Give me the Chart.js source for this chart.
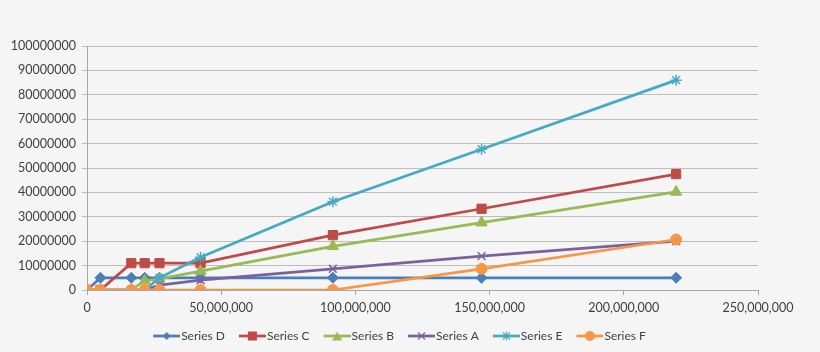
<!DOCTYPE html>
<html>
<head>
<meta charset="utf-8">
<script src="https://cdn.jsdelivr.net/npm/chart.js@4.4.1/dist/chart.umd.min.js"></script>
<style>
  html, body { margin: 0; padding: 0; background: #f5f5f5; }
  #wrap { width: 820px; height: 352px; }
</style>
</head>
<body>
<div id="wrap"><canvas id="myChart"></canvas></div>
<script>
var xValues = [0, 5000000, 16500000, 21500000, 27000000, 42300000, 91600000, 147000000, 219500000];
var seriesD = [0, 5000000, 5000000, 5000000, 5000000, 5000000, 5000000, 5000000, 5000000];
var seriesC = [0, 0, 11000000, 11000000, 11000000, 11000000, 22500000, 33300000, 47500000];
var seriesB = [0, 0, 0, 3800000, 4600000, 7700000, 17900000, 27600000, 40200000];
var seriesA = [0, 0, 0, 0, 2000000, 4000000, 8700000, 13900000, 20000000];
var seriesE = [0, 0, 0, 0, 5000000, 13400000, 36200000, 57700000, 86000000];
var seriesF = [0, 0, 0, 0, 0, 0, 0, 8700000, 20700000];
var yTicks = [0, 10000000, 20000000, 30000000, 40000000, 50000000, 60000000, 70000000, 80000000, 90000000, 100000000];
var xTicks = [0, 50000000, 100000000, 150000000, 200000000, 250000000];

function pts(ys) {
  return xValues.map(function (x, i) { return { x: x, y: ys[i] }; });
}

// little line+marker picture for the legend, like Excel does
function legendIcon(color, shape) {
  var c = document.createElement("canvas");
  c.width = 43;
  c.height = 12;
  var g = c.getContext("2d");
  var m = 29.5;
  g.strokeStyle = color;
  g.fillStyle = color;
  g.lineWidth = 2.75;
  g.beginPath();
  g.moveTo(16, 6);
  g.lineTo(43, 6);
  g.stroke();
  g.lineWidth = 1.2;
  g.beginPath();
  if (shape == "rectRot") {
    g.moveTo(m, 2); g.lineTo(m + 4, 6); g.lineTo(m, 10); g.lineTo(m - 4, 6); g.closePath(); g.fill();
  } else if (shape == "rect") {
    g.fillRect(m - 4.5, 1.5, 9, 9);
  } else if (shape == "triangle") {
    g.moveTo(m, 1.5); g.lineTo(m + 5, 10.5); g.lineTo(m - 5, 10.5); g.closePath(); g.fill();
  } else if (shape == "crossRot") {
    g.moveTo(m - 3.5, 2.5); g.lineTo(m + 3.5, 9.5); g.moveTo(m + 3.5, 2.5); g.lineTo(m - 3.5, 9.5); g.stroke();
  } else if (shape == "star") {
    g.moveTo(m - 3.5, 2.5); g.lineTo(m + 3.5, 9.5); g.moveTo(m + 3.5, 2.5); g.lineTo(m - 3.5, 9.5);
    g.moveTo(m, 1.5); g.lineTo(m, 10.5); g.stroke();
  } else {
    g.arc(m, 6, 5, 0, Math.PI * 2); g.fill();
  }
  return c;
}

function makeSet(label, ys, color, shape, radius, order) {
  return {
    label: label,
    data: pts(ys),
    borderColor: color,
    backgroundColor: color,
    borderWidth: 2.75,
    pointStyle: shape,
    pointRadius: radius,
    pointHoverRadius: radius,
    pointBorderWidth: shape == "crossRot" || shape == "star" ? 1.5 : 1,
    pointBorderColor: color,
    pointBackgroundColor: color,
    legendIcon: legendIcon(color, shape),
    order: order,
  };
}

var ctx = document.getElementById("myChart").getContext("2d");
var myChart = new Chart(ctx, {
  type: "line",
  data: {
    datasets: [
      makeSet("Series D", seriesD, "#4a7ebb", "rectRot", 5.5, 5),
      makeSet("Series C", seriesC, "#be4b48", "rect", 6.5, 4),
      makeSet("Series B", seriesB, "#98b954", "triangle", 6.5, 3),
      makeSet("Series A", seriesA, "#7d60a0", "crossRot", 5.5, 2),
      makeSet("Series E", seriesE, "#46aac5", "star", 5.5, 1),
      makeSet("Series F", seriesF, "#f79646", "circle", 5.5, 0),
    ],
  },
  options: {
    responsive: true,
    maintainAspectRatio: false,
    animation: false,
    layout: {
      padding: { left: 0, right: 32, top: 46, bottom: 0 },
    },
    scales: {
      x: {
        type: "linear",
        min: 0,
        max: 250000000,
        afterBuildTicks: function (scale) {
          scale.ticks = xTicks.map(function (v) { return { value: v }; });
        },
        afterFit: function (scale) {
          scale.height = 37;
        },
        ticks: {
          color: "#404040",
          font: { family: "Lato", size: 12.5 },
          padding: 5,
          maxRotation: 0,
          callback: function (v) { return Number(v).toLocaleString("en-US"); },
        },
        grid: { drawOnChartArea: false, drawTicks: true, tickLength: 5, color: "#a6a6a6" },
        border: { color: "#a6a6a6", width: 1 },
      },
      y: {
        min: 0,
        max: 100000000,
        afterBuildTicks: function (scale) {
          scale.ticks = yTicks.map(function (v) { return { value: v }; });
        },
        afterFit: function (scale) {
          scale.width = 87;
        },
        ticks: {
          color: "#404040",
          font: { family: "Lato", size: 12.5 },
          padding: 6,
          callback: function (v) { return String(v); },
        },
        grid: { color: "#bdbdbd", lineWidth: 1, tickLength: 5 },
        border: { color: "#a6a6a6", width: 1 },
      },
      // empty right-hand gap so the legend centres like the original
      yGap: {
        position: "right",
        display: true,
        ticks: { display: false },
        grid: { display: false },
        border: { display: false },
        afterFit: function (scale) {
          scale.width = 30;
        },
      },
    },
    plugins: {
      tooltip: { enabled: false },
      legend: {
        display: true,
        position: "bottom",
        labels: {
          usePointStyle: true,
          pointStyleWidth: 33,
          padding: 3,
          color: "#404040",
          font: { family: "Lato", size: 12 },
          sort: function (a, b) { return a.datasetIndex - b.datasetIndex; },
          generateLabels: function (chart) {
            return chart.data.datasets.map(function (ds, i) {
              return {
                text: ds.label,
                datasetIndex: i,
                pointStyle: ds.legendIcon,
                fillStyle: ds.borderColor,
                strokeStyle: ds.borderColor,
                lineWidth: 0,
                fontColor: "#404040",
                hidden: false,
              };
            });
          },
        },
      },
    },
  },
});
</script>
</body>
</html>
